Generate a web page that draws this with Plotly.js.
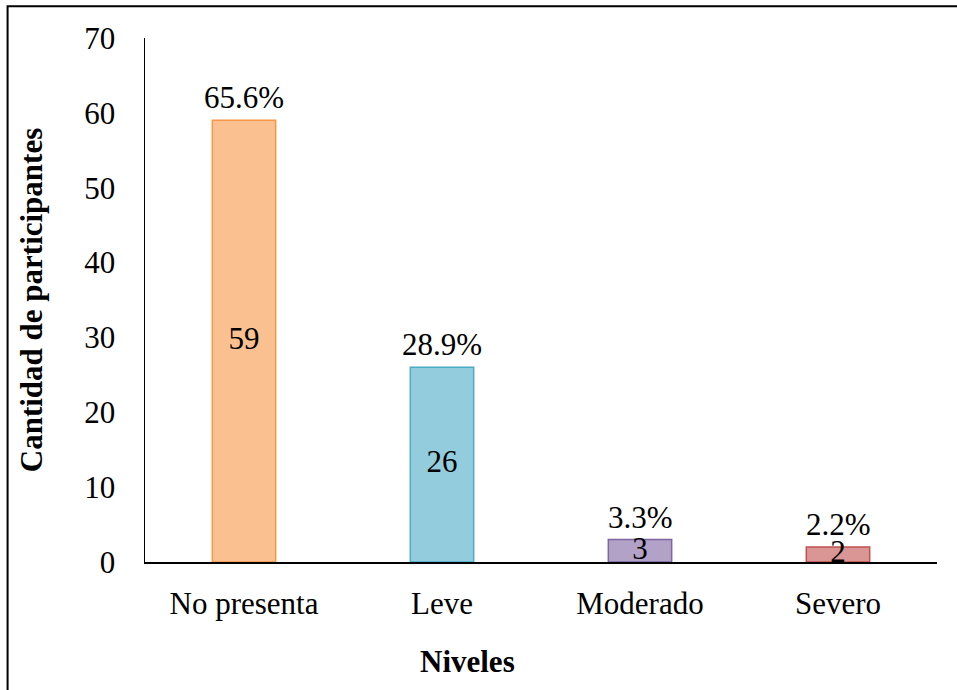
<!DOCTYPE html>
<html>
<head>
<meta charset="utf-8">
<script src="https://cdn.plot.ly/plotly-3.0.1.min.js"></script>
<style>html,body{margin:0;padding:0;background:#fff;}#chart{width:957px;height:690px;}</style>
</head>
<body>
<div id="chart"></div>
<script>
const categories = ["No presenta", "Leve", "Moderado", "Severo"];
const counts = [59, 26, 3, 2];
const percentLabels = ["65.6%", "28.9%", "3.3%", "2.2%"];
const fillColors = ["#FAC090", "#93CDDD", "#B3A2C7", "#D99694"];
const lineColors = ["#F79646", "#4BACC6", "#8064A2", "#C0504D"];
const yTicks = [0, 10, 20, 30, 40, 50, 60, 70];
const xTitle = "Niveles";
const yTitle = "Cantidad de participantes";

const font = "Liberation Serif";
const fs = 31;

const bars = {
  type: "bar",
  x: categories,
  y: counts,
  width: 0.32,
  marker: {color: fillColors, line: {color: lineColors, width: 1.5}},
  hoverinfo: "none",
  showlegend: false
};
const valueText = {
  type: "scatter",
  mode: "text",
  x: categories,
  y: counts.map(v => v / 2),
  text: counts.map(String),
  textposition: "middle center",
  textfont: {family: font, size: fs, color: "#000"},
  hoverinfo: "none",
  showlegend: false,
  cliponaxis: false
};

const pctAnnotations = categories.map((c, i) => ({
  x: c, y: counts[i], xref: "x", yref: "y",
  text: percentLabels[i], showarrow: false,
  yanchor: "bottom", yshift: 3,
  font: {family: font, size: fs, color: "#000"}
}));

const layout = {
  width: 957, height: 690,
  margin: {l: 145, r: 20, t: 38, b: 128},
  paper_bgcolor: "#fff", plot_bgcolor: "#fff",
  font: {family: font, size: fs, color: "#000"},
  xaxis: {
    type: "category",
    showline: true, linecolor: "#000", linewidth: 1.5,
    showgrid: false, zeroline: false, ticks: "",
    ticklabelstandoff: 13,
    tickfont: {family: font, size: fs, color: "#000"}
  },
  yaxis: {
    range: [0, 70],
    tickvals: yTicks,
    showline: true, linecolor: "#000", linewidth: 1.5,
    showgrid: false, zeroline: false, ticks: "",
    ticklabelstandoff: 22,
    tickfont: {family: font, size: fs, color: "#000"},
    title: {text: "<b>" + yTitle + "</b>", font: {family: font, size: fs, color: "#000"}, standoff: 32}
  },
  annotations: pctAnnotations.concat([{
    xref: "paper", yref: "paper", x: 0.4066, y: -0.189,
    xanchor: "center", yanchor: "middle", showarrow: false,
    text: "<b>" + xTitle + "</b>",
    font: {family: font, size: fs, color: "#000"}
  }]),
  shapes: [{
    type: "rect", xref: "paper", yref: "paper",
    x0: -0.1735, x1: 1.05, y0: -0.3, y1: 1.0605,
    line: {color: "#000", width: 2}, fillcolor: "rgba(0,0,0,0)", layer: "below"
  }]
};

Plotly.newPlot("chart", [bars, valueText], layout, {staticPlot: true, displayModeBar: false});
</script>
</body>
</html>
